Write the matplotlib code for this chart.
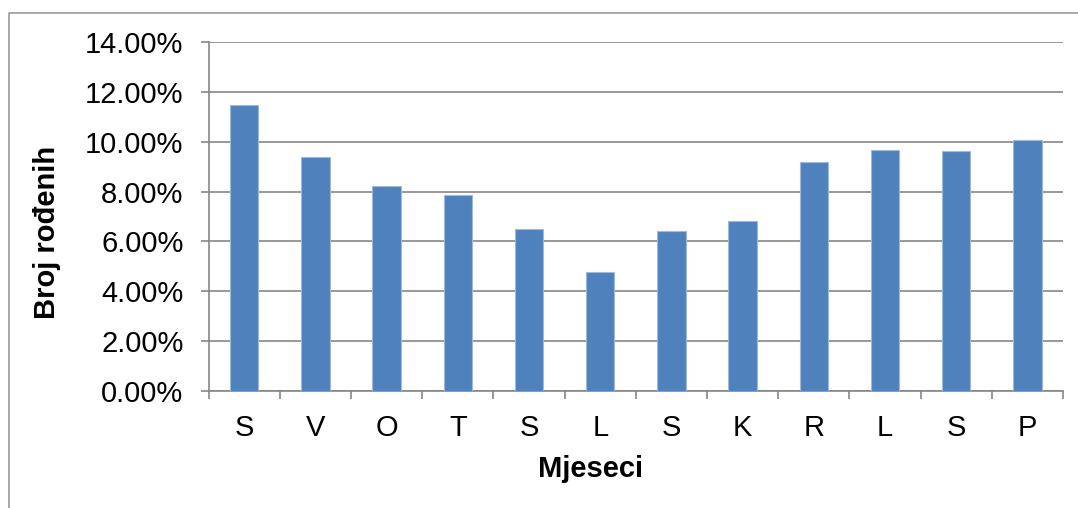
import matplotlib
matplotlib.use("Agg")
import matplotlib.pyplot as plt
from matplotlib.lines import Line2D
from matplotlib.ticker import PercentFormatter, NullFormatter
import numpy as np

months = ["S", "V", "O", "T", "S", "L", "S", "K", "R", "L", "S", "P"]
values = [11.47, 9.38, 8.22, 7.87, 6.48, 4.76, 6.40, 6.81, 9.19, 9.68, 9.62, 10.08]
yticks = [0, 2, 4, 6, 8, 10, 12, 14]

plt.rcParams['font.family'] = ['Liberation Sans', 'DejaVu Sans']

W, H = 1078, 508
fig = plt.figure(figsize=(W / 100, H / 100), dpi=100)
ax = fig.add_axes([208.6 / W, 1 - 390.7 / H, (1063 - 208.6) / W, (390.7 - 42.3) / H])

x = np.arange(len(months))
ax.bar(x, values, width=0.4, color="#4F81BD", edgecolor="#9DB9DC", linewidth=0.8, zorder=3)

ax.set_xlim(-0.5, len(months) - 0.5)
ax.set_ylim(0, 14)
ax.set_yticks(yticks)
ax.yaxis.set_major_formatter(PercentFormatter(decimals=2))
ax.grid(axis="y", color="#868686", linewidth=1.2, zorder=0)
ax.set_axisbelow(True)

ax.set_xticks(np.arange(-0.5, len(months), 1))
ax.xaxis.set_major_formatter(NullFormatter())
ax.set_xticks(x, minor=True)
ax.set_xticklabels(months, minor=True)
ax.tick_params(axis="x", which="minor", length=0, pad=17, labelsize=21)
ax.tick_params(axis="x", which="major", length=6, width=1.2, color="#868686")
ax.tick_params(axis="y", length=6, width=1.2, color="#868686", labelsize=21, pad=12)

for s in ["top", "right"]:
    ax.spines[s].set_visible(False)
for s in ["left", "bottom"]:
    ax.spines[s].set_color("#868686")
    ax.spines[s].set_linewidth(1.2)

fig.text(47 / W, 1 - 232 / H, "Broj rođenih", rotation=90, ha="center", va="center",
         fontsize=21, fontweight="bold")
fig.text(591 / W, 1 - 469 / H, "Mjeseci", ha="center", va="center",
         fontsize=21, fontweight="bold")

fig.add_artist(Line2D([9 / W, 9 / W, 1.0], [0.0, 1 - 13 / H, 1 - 13 / H],
                      transform=fig.transFigure, color="#9a9a9a", linewidth=1.2))

fig.savefig("out.png", dpi=100, facecolor="white")
